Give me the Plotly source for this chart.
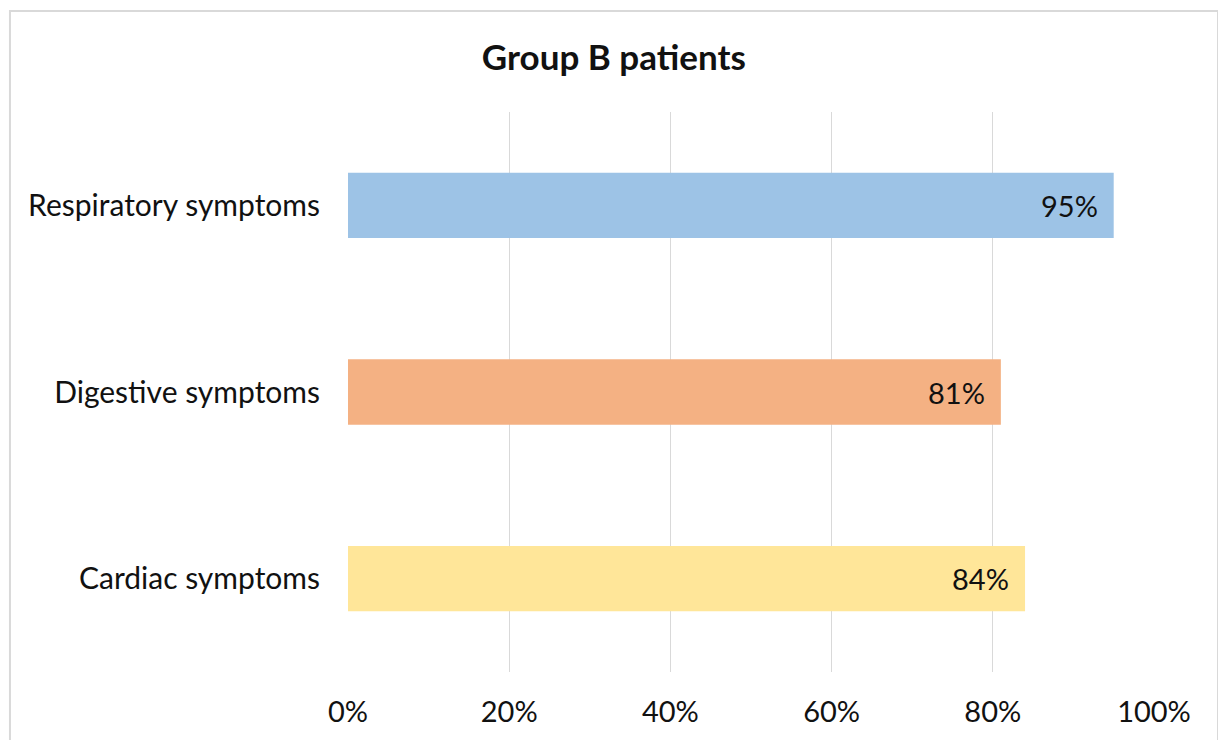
import plotly.graph_objects as go

# Share of Group B patients with each symptom type
categories = ["Respiratory symptoms", "Digestive symptoms", "Cardiac symptoms"]
values = [95, 81, 84]
colors = ["#9DC3E6", "#F4B183", "#FFE699"]
tick_vals = [0, 20, 40, 60, 80, 100]
tick_text = ["0%", "20%", "40%", "60%", "80%", "100%"]

FONT = "Lato, Open Sans, sans-serif"
TEXT_COLOR = "#111111"

fig = go.Figure(
    go.Bar(
        y=categories,
        x=values,
        orientation="h",
        marker=dict(color=colors, line=dict(width=0)),
        hoverinfo="x+y",
    )
)

# Value labels sit inside the bar end, with a little padding
for cat, v in zip(categories, values):
    fig.add_annotation(
        x=v,
        y=cat,
        xref="x",
        yref="y",
        text=f"{v}%",
        showarrow=False,
        xanchor="right",
        yanchor="middle",
        xshift=-14,
        font=dict(family=FONT, size=29, color=TEXT_COLOR),
    )

fig.update_layout(
    width=1218,
    height=740,
    margin=dict(l=348, r=64, t=112, b=68),
    paper_bgcolor="white",
    plot_bgcolor="white",
    bargap=0.65,
    showlegend=False,
    title=dict(
        text="<b>Group B patients</b>",
        x=0.504,
        xanchor="center",
        y=0.922,
        yanchor="middle",
        font=dict(family=FONT, size=35, color=TEXT_COLOR),
    ),
    xaxis=dict(
        range=[0, 100],
        tickvals=tick_vals,
        ticktext=tick_text,
        showgrid=True,
        gridcolor="#D9D9D9",
        gridwidth=1,
        zeroline=False,
        showline=False,
        ticks="",
        ticklabelstandoff=20,
        tickfont=dict(family=FONT, size=29, color=TEXT_COLOR),
    ),
    yaxis=dict(
        autorange="reversed",
        showgrid=False,
        zeroline=False,
        showline=False,
        ticks="",
        ticklabelstandoff=27,
        tickfont=dict(family=FONT, size=30, color=TEXT_COLOR),
    ),
    shapes=[
        dict(
            type="rect",
            xref="paper",
            yref="paper",
            x0=-0.4194,
            x1=1.0794,
            y0=-0.2,
            y1=1.1804,
            line=dict(color="#D9D9D9", width=2),
            fillcolor="rgba(0,0,0,0)",
            layer="below",
        )
    ],
)

fig.write_html("out.html")
